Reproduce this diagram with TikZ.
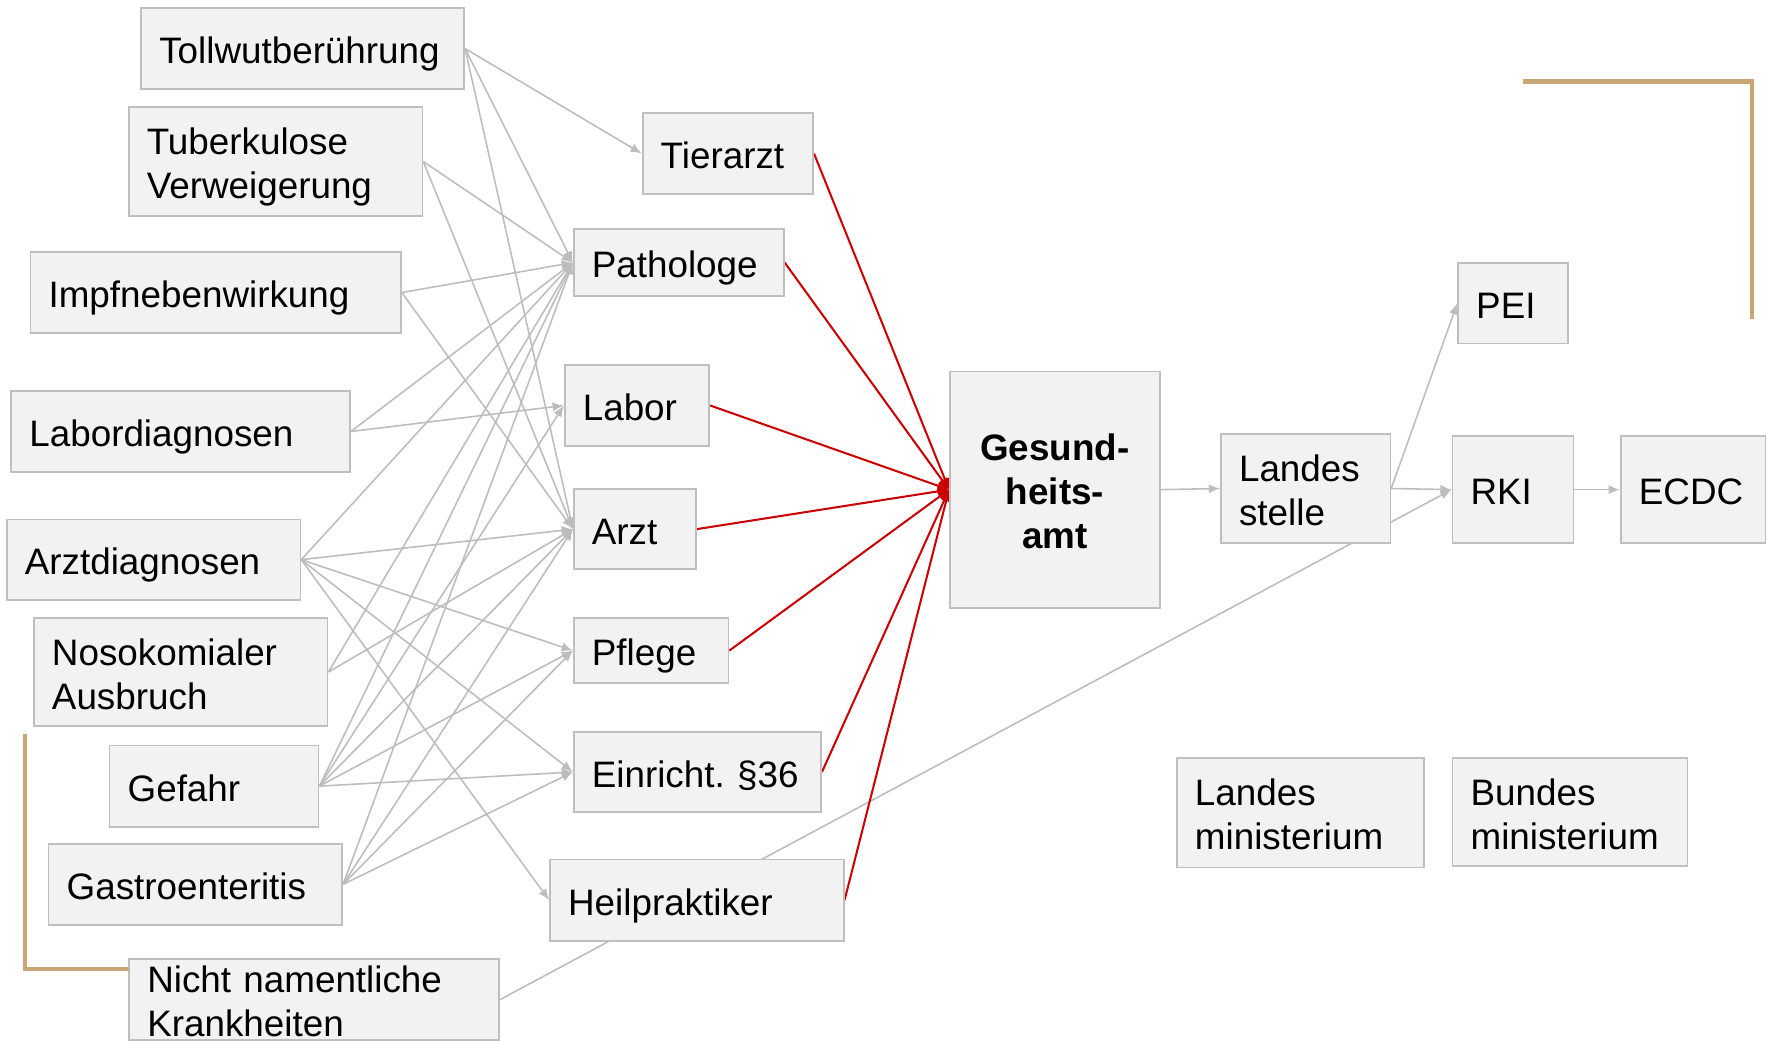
\documentclass[tikz,border=0pt]{standalone}
\usepackage{fontspec}
\setmainfont{Liberation Sans}
\usetikzlibrary{arrows.meta}
\definecolor{boxfill}{HTML}{F2F2F2}
\definecolor{boxline}{HTML}{BFBFBF}
\definecolor{edgegray}{HTML}{BDBDBD}
\definecolor{redline}{HTML}{CC0000}
\definecolor{tanc}{HTML}{C9A675}
\pgfdeclarelayer{bg}
\pgfsetlayers{bg,main}
\frenchspacing
\newcommand\myfs{\fontsize{16.3pt}{19.5pt}\selectfont\hyphenpenalty=10000\exhyphenpenalty=10000}
\begin{document}
\begin{tikzpicture}[x=0.5pt,y=-0.5pt,
  box/.style={draw=boxline, fill=boxfill, line width=0.75pt, inner xsep=8pt, inner ysep=0pt,
    align=left, font=\myfs, text height=16.8pt, text depth=3.5pt},
  two/.style={text depth=23pt},
  gedge/.style={draw=edgegray, line width=0.7pt, -{Latex[length=5pt,width=4pt]}},
  redge/.style={draw=redline, line width=0.9pt, -{Latex[length=5pt,width=5pt]}},
  tanline/.style={draw=tanc, line width=2pt},
]
\useasboundingbox (0,0) rectangle (1568,923);

% left column
\node[box, minimum width=143pt, minimum height=36pt, text width=127pt] (tw) at (268,43) {Tollwutberührung};
\node[box, two, minimum width=130pt, minimum height=48pt, text width=114pt] (tb) at (244,143) {Tuberkulose\\Verweigerung};
\node[box, minimum width=164pt, minimum height=36pt, text width=148pt] (im) at (191,259) {Impfnebenwirkung};
\node[box, minimum width=150pt, minimum height=36pt, text width=134pt] (ld) at (160,382) {Labordiagnosen};
\node[box, minimum width=130pt, minimum height=35.5pt, text width=114pt] (ad) at (136,495.5) {Arztdiagnosen};
\node[box, two, minimum width=130pt, minimum height=48pt, text width=114pt] (no) at (160,595) {Nosokomialer\\Ausbruch};
\node[box, minimum width=92.5pt, minimum height=36pt, text width=76.5pt] (gf) at (189.5,696) {Gefahr};
\node[box, minimum width=130pt, minimum height=36pt, text width=114pt] (ge) at (173,783) {Gastroenteritis};
\node[box, minimum width=164pt, minimum height=36pt] (nn) at (278,885) {};
\node[font=\myfs, align=left, anchor=north west, inner sep=0pt, text width=150pt,
  text height=14.8pt, text depth=23pt] (nntext) at (130,848.4) {Nicht namentliche\\Krankheiten};

% middle column
\node[box, minimum width=75.5pt, minimum height=36pt, text width=59.5pt] (ta) at (644.5,136) {Tierarzt};
\node[box, minimum width=93pt, minimum height=29.5pt, text width=77pt] (pa) at (601,232.5) {Pathologe};
\node[box, minimum width=64pt, minimum height=36pt, text width=48pt] (la) at (564,359) {Labor};
\node[box, minimum width=54pt, minimum height=35.5pt, text width=38pt] (az) at (562,468.5) {Arzt};
\node[box, minimum width=68.5pt, minimum height=29pt, text width=52.5pt] (pf) at (576.5,576) {Pflege};
\node[box, minimum width=109.5pt, minimum height=35.5pt, text width=93.5pt] (ei) at (617.5,683.5) {\mbox{Einricht.\ §36}};
\node[box, minimum width=130pt, minimum height=36pt, text width=114pt] (hp) at (617,797) {Heilpraktiker};

% right part
\node[box, align=center, font=\myfs\bfseries, text depth=42.5pt, minimum width=93pt, minimum height=104.5pt, text width=77pt] (ga) at (934,433.5) {Gesund-\\heits-\\amt};
\node[box, two, minimum width=75pt, minimum height=48.5pt, text width=59pt] (ls) at (1156,432.5) {Landes\\stelle};
\node[box, minimum width=48.5pt, minimum height=35.5pt, text width=32.5pt] (pei) at (1339.5,268.5) {PEI};
\node[box, minimum width=53.5pt, minimum height=47.5pt, text width=37.5pt] (rki) at (1339.5,433.5) {RKI};
\node[box, minimum width=64pt, minimum height=47.5pt, text width=48pt] (ec) at (1499,433.5) {ECDC};
\node[box, two, minimum width=109.5pt, minimum height=48.5pt, text width=93.5pt] (lm) at (1151.5,719.5) {Landes\\ministerium};
\node[box, two, minimum width=104pt, minimum height=48pt, text width=88pt] (bm) at (1390,719) {Bundes\\ministerium};

% tan brackets
\draw[tanline] (1348,72) -- (1551,72) -- (1551,282);
\draw[tanline] (22,650) -- (22,858) -- (114,858);

\begin{pgfonlayer}{bg}
% gray edges
\draw[gedge] (tw.east) -- (ta.west);
\draw[gedge] (tw.east) -- (pa.west);
\draw[gedge] (tw.east) -- (az.west);
\draw[gedge] (tb.east) -- (pa.west);
\draw[gedge] (tb.east) -- (az.west);
\draw[gedge] (im.east) -- (pa.west);
\draw[gedge] (im.east) -- (az.west);
\draw[gedge] (ld.east) -- (pa.west);
\draw[gedge] (ld.east) -- (la.west);
\draw[gedge] (ad.east) -- (pa.west);
\draw[gedge] (ad.east) -- (az.west);
\draw[gedge] (ad.east) -- (pf.west);
\draw[gedge] (ad.east) -- (ei.west);
\draw[gedge] (ad.east) -- (hp.west);
\draw[gedge] (no.east) -- (pa.west);
\draw[gedge] (no.east) -- (az.west);
\draw[gedge] (gf.east) -- (pa.west);
\draw[gedge] (gf.east) -- (la.west);
\draw[gedge] (gf.east) -- (az.west);
\draw[gedge] (gf.east) -- (pf.west);
\draw[gedge] (gf.east) -- (ei.west);
\draw[gedge] (ge.east) -- (pa.west);
\draw[gedge] (ge.east) -- (az.west);
\draw[gedge] (ge.east) -- (pf.west);
\draw[gedge] (ge.east) -- (ei.west);
\draw[gedge] (nn.east) -- (rki.west);
\draw[gedge] (ga.east) -- (ls.west);
\draw[gedge] (ls.east) -- (pei.west);
\draw[gedge] (ls.east) -- (rki.west);
\draw[gedge] (rki.east) -- (ec.west);
% red edges
\draw[redge] (ta.east) -- (ga.west);
\draw[redge] (pa.east) -- (ga.west);
\draw[redge] (la.east) -- (ga.west);
\draw[redge] (az.east) -- (ga.west);
\draw[redge] (pf.east) -- (ga.west);
\draw[redge] (ei.east) -- (ga.west);
\draw[redge] (hp.east) -- (ga.west);
\end{pgfonlayer}
\end{tikzpicture}
\end{document}
